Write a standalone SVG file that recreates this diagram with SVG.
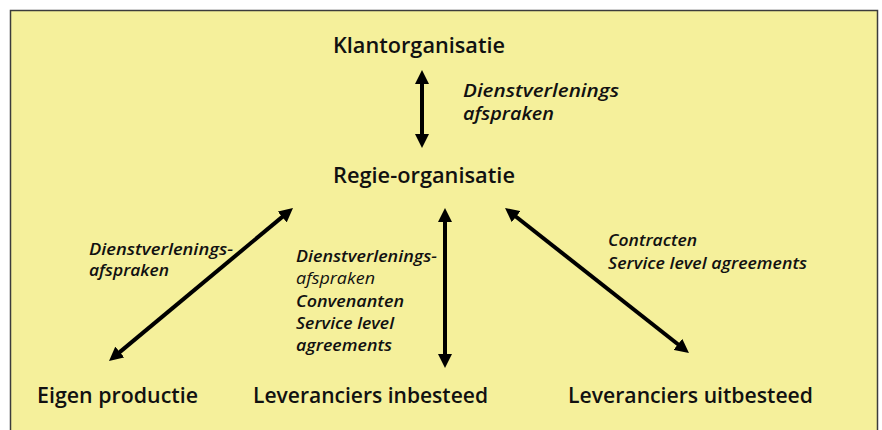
<svg xmlns="http://www.w3.org/2000/svg" width="882" height="430" viewBox="0 0 882 430">
  <style>
    .node { font-family: "Open Sans", "Noto Sans", "Liberation Sans", sans-serif; font-weight: 600; font-size: 21px; fill: #111; }
    .lbl { font-family: "Open Sans", "Noto Sans", "Liberation Sans", sans-serif; font-style: italic; font-weight: 600; font-size: 16.5px; fill: #111; }
    .lbl-big { font-size: 17.5px; }
    .light { font-weight: 400; }
    .conn { stroke: #000; stroke-width: 4; fill: none; marker-start: url(#ah); marker-end: url(#ah); }
  </style>
  <defs>
    <marker id="ah" viewBox="0 0 14 14" refX="4" refY="7" markerWidth="14" markerHeight="14" markerUnits="userSpaceOnUse" orient="auto-start-reverse">
      <path d="M0,0 L14,7 L0,14 Z" fill="#000"/>
    </marker>
  </defs>
  <rect x="0" y="0" width="882" height="430" fill="#ffffff"/>
  <rect x="10.5" y="10.5" width="867" height="440" fill="#F5F09B" stroke="#3c3c3c" stroke-width="1.5"/>

  <g id="connectors">
    <line class="conn" x1="422" y1="80" x2="422" y2="138"/>
    <line class="conn" x1="445" y1="218" x2="445" y2="358"/>
    <line class="conn" x1="116.7" y1="354.6" x2="285.3" y2="214.4"/>
    <line class="conn" x1="512.9" y1="214.2" x2="681.1" y2="346.8"/>
  </g>

  <g id="label-top">
    <text class="lbl lbl-big" x="463" y="97" textLength="156" lengthAdjust="spacingAndGlyphs">Dienstverlenings</text>
    <text class="lbl lbl-big" x="463" y="120" textLength="91" lengthAdjust="spacingAndGlyphs">afspraken</text>
  </g>
  <g id="label-left">
    <text class="lbl" x="89" y="255" textLength="144" lengthAdjust="spacingAndGlyphs">Dienstverlenings-</text>
    <text class="lbl" x="89" y="276" textLength="80" lengthAdjust="spacingAndGlyphs">afspraken</text>
  </g>
  <g id="label-middle">
    <text class="lbl" x="296" y="262" textLength="141" lengthAdjust="spacingAndGlyphs">Dienstverlenings-</text>
    <text class="lbl light" x="296" y="284" textLength="79" lengthAdjust="spacingAndGlyphs">afspraken</text>
    <text class="lbl" x="296" y="307" textLength="108" lengthAdjust="spacingAndGlyphs">Convenanten</text>
    <text class="lbl" x="296" y="329" textLength="98" lengthAdjust="spacingAndGlyphs">Service level</text>
    <text class="lbl" x="296" y="351" textLength="96" lengthAdjust="spacingAndGlyphs">agreements</text>
  </g>
  <g id="label-right">
    <text class="lbl" x="608" y="246" textLength="89" lengthAdjust="spacingAndGlyphs">Contracten</text>
    <text class="lbl" x="608" y="269" textLength="199" lengthAdjust="spacingAndGlyphs">Service level agreements</text>
  </g>

  <g id="node-klant"><text class="node" x="333" y="53" textLength="172" lengthAdjust="spacingAndGlyphs">Klantorganisatie</text></g>
  <g id="node-regie"><text class="node" x="333" y="183" textLength="182" lengthAdjust="spacingAndGlyphs">Regie-organisatie</text></g>
  <g id="node-eigen"><text class="node" x="37" y="403" textLength="161" lengthAdjust="spacingAndGlyphs">Eigen productie</text></g>
  <g id="node-inbesteed"><text class="node" x="253" y="403" textLength="235" lengthAdjust="spacingAndGlyphs">Leveranciers inbesteed</text></g>
  <g id="node-uitbesteed"><text class="node" x="568" y="403" textLength="245" lengthAdjust="spacingAndGlyphs">Leveranciers uitbesteed</text></g>
</svg>
